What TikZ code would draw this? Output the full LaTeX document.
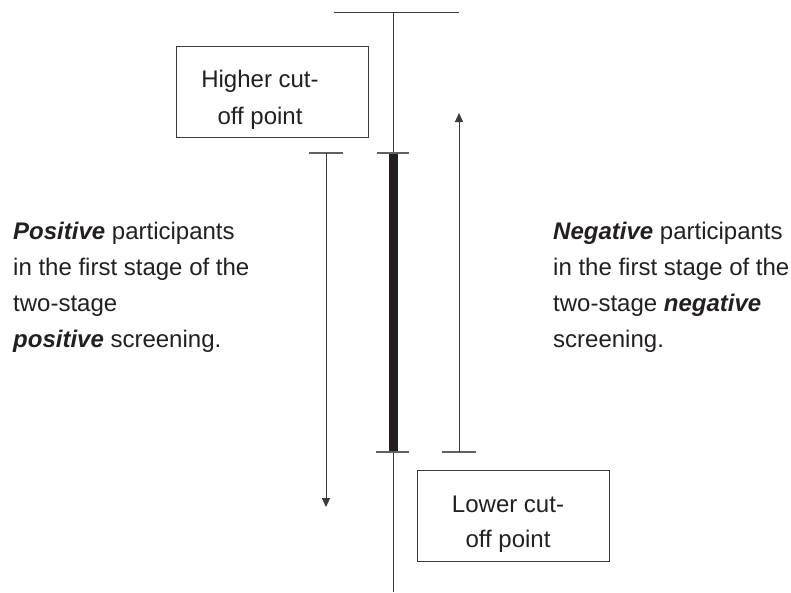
\documentclass[tikz,border=0pt]{standalone}
\usepackage{fontspec}
\setmainfont{Liberation Sans}
\usetikzlibrary{arrows.meta}
\definecolor{ink}{HTML}{231F20}
\definecolor{rule}{HTML}{3A3A3A}
\tikzset{
  thin line/.style={draw=rule, line width=1pt},
  tick/.style={draw=rule!80, line width=1.1pt},
  box/.style={draw=rule, line width=1.2pt, inner sep=0pt, anchor=north west},
  label text/.style={inner sep=0pt, anchor=base west, text=ink, font=\fontsize{24}{36}\selectfont},
  arr/.style={thin line, -{Triangle[length=9pt,width=8pt]}},
}
\begin{document}
\begin{tikzpicture}[x=1pt,y=-1pt]
\useasboundingbox (0,0) rectangle (791,592);
% coordinates
\coordinate (top) at (393,12);
\coordinate (bot) at (393,592);
\coordinate (tl) at (334,12);
\coordinate (tr) at (459,12);
\coordinate (barT) at (393,153);
\coordinate (barB) at (393,452);
\coordinate (ctl) at (377,153);
\coordinate (ctr) at (409,153);
\coordinate (cbl) at (376,452);
\coordinate (cbr) at (409,452);
\coordinate (ltl) at (309,153);
\coordinate (ltr) at (343,153);
\coordinate (ltm) at (326,153);
\coordinate (ltend) at (326,507);
\coordinate (rbl) at (442,452);
\coordinate (rbr) at (476,452);
\coordinate (rbm) at (459,452);
\coordinate (rbend) at (459,113);
% main axis
\draw[thin line] (top) -- (bot);
\draw[thin line] (tl) -- (tr);
% thick band
\draw[draw=ink, line width=9pt] (barT) -- (barB);
\draw[tick] (ctl) -- (ctr);
\draw[tick] (cbl) -- (cbr);
% positive arrow
\draw[tick] (ltl) -- (ltr);
\draw[arr] (ltm) -- (ltend);
% negative arrow
\draw[tick] (rbl) -- (rbr);
\draw[arr] (rbm) -- (rbend);
% boxes
\node[box, minimum width=192pt, minimum height=91pt] (hibox) at (176,46) {};
\node[label text, anchor=base] (hitext) at (260,87)
  {\parbox[t]{140pt}{\centering\fontsize{24}{37}\selectfont Higher cut-\\off point}};
\node[box, minimum width=192pt, minimum height=91pt] (lobox) at (417,470) {};
\node[label text, anchor=base] (lotext) at (508,512)
  {\parbox[t]{140pt}{\centering\fontsize{24}{35}\selectfont Lower cut-\\off point}};
% side texts
\node[label text] (postext) at (13,239)
  {\parbox[t]{280pt}{\raggedright\fontsize{24}{36}\selectfont
   \textbf{\textit{Positive}} participants\\in the first stage of the\\two-stage\\\textbf{\textit{positive}} screening.}};
\node[label text] (negtext) at (553,239)
  {\parbox[t]{280pt}{\raggedright\fontsize{24}{36}\selectfont
   \textbf{\textit{Negative}} participants\\in the first stage of the\\two-stage \textbf{\textit{negative}}\\screening.}};
\end{tikzpicture}
\end{document}
